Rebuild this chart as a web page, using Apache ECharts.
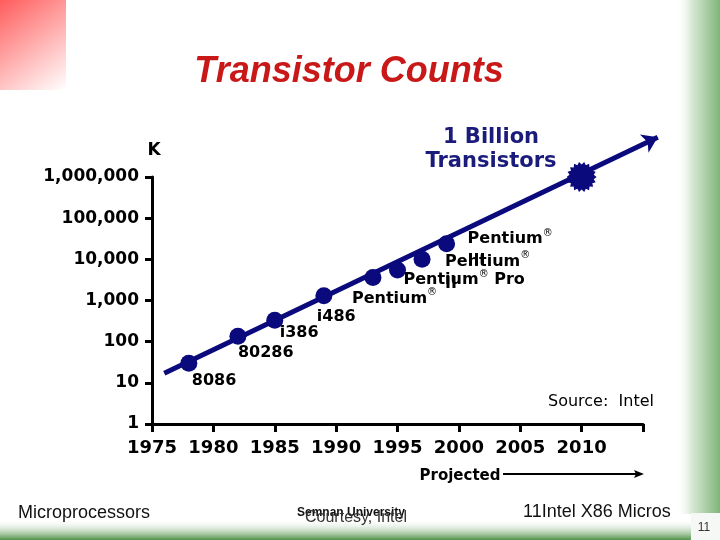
<!DOCTYPE html>
<html>
<head>
<meta charset="utf-8">
<script src="https://cdn.jsdelivr.net/npm/echarts@6/dist/echarts.min.js"></script>
<style>html,body{margin:0;padding:0;background:#fff}#c{width:720px;height:540px}</style>
</head>
<body>
<div id="c"></div>
<script>
// ---- data ----
const chipNames = ['8086', '80286', 'i386', 'i486', 'Pentium®', 'Pentium® Pro', 'Pentium® II', 'Pentium® III'];
const chipYears = [1978, 1982, 1985, 1989, 1993, 1995, 1997, 1999];
const chipTransistorsK = [30, 135, 330, 1300, 3600, 5500, 10000, 24000];
const milestoneYears = [2010];
const milestoneTransistorsK = [1000000];
const trendYears = [1976, 2016.2];
const trendTransistorsK = [17, 9300000];
const yTickValues = [1, 10, 100, 1000, 10000, 100000, 1000000];
const xTickYears = [1975, 1980, 1985, 1990, 1995, 2000, 2005, 2010];

// ---- styles ----
const NAVY = '#0a0a7c';
const labelOffsets = [[3, 18], [0, 16.5], [5, 13], [-7, 21], [-21, 21], [6, 10], [23, 2.5], [21, -4.5]];

function richName(n) {
  const parts = n.split('®');
  if (parts.length === 1) return '{t|' + n + '}';
  const suffix = parts[1];
  if (suffix === ' II' || suffix === ' III') {
    return '{t|' + parts[0] + '}{r|®}\n{t|' + suffix.trim() + '}';
  }
  return '{t|' + parts[0] + '}{r|®}' + (suffix ? '{t|' + suffix + '}' : '');
}

// starburst symbol shape
function starPath(spikes) {
  let d = '';
  for (let i = 0; i < spikes * 2; i++) {
    const r = i % 2 === 0 ? 50 : 41;
    const a = Math.PI * i / spikes;
    d += (i === 0 ? 'M' : 'L') + (50 + r * Math.cos(a)).toFixed(2) + ' ' + (50 + r * Math.sin(a)).toFixed(2) + ' ';
  }
  return 'path://' + d + 'Z';
}

const chart = echarts.init(document.getElementById('c'), null, {renderer: 'canvas', width: 720, height: 540});

const chipData = chipNames.map((n, i) => ({
  value: [chipYears[i], chipTransistorsK[i]],
  name: n,
  label: {
    show: true,
    position: 'inside',
    align: 'left',
    verticalAlign: 'top',
    offset: [labelOffsets[i][0], labelOffsets[i][1] - 11],
    formatter: richName(n),
    rich: {
      t: {fontFamily: 'DejaVu Sans', fontWeight: 'bold', fontSize: 16, color: '#000', lineHeight: 22},
      r: {fontFamily: 'DejaVu Sans', fontSize: 10, color: '#000', verticalAlign: 'top', lineHeight: 12}
    }
  }
}));

const option = {
  animation: false,
  backgroundColor: '#ffffff',
  grid: {left: 152, right: 77, top: 177, bottom: 116, containLabel: false},
  xAxis: {
    type: 'value', min: 1975, max: 2015, interval: 5,
    axisLine: {show: true, onZero: false, lineStyle: {color: '#000', width: 3}},
    axisTick: {show: true, length: 8, lineStyle: {color: '#000', width: 3}},
    splitLine: {show: false},
    axisLabel: {
      margin: 15, color: '#000', fontFamily: 'DejaVu Sans', fontWeight: 'bold', fontSize: 18,
      formatter: v => (xTickYears.indexOf(v) >= 0 ? String(v) : '')
    }
  },
  yAxis: {
    type: 'log', logBase: 10, min: yTickValues[0], max: yTickValues[yTickValues.length - 1],
    axisLine: {show: true, lineStyle: {color: '#000', width: 3}},
    axisTick: {show: true, length: 7, lineStyle: {color: '#000', width: 3}},
    splitLine: {show: false},
    axisLabel: {
      margin: 13, color: '#000', fontFamily: 'DejaVu Sans', fontWeight: 'bold', fontSize: 17,
      formatter: v => Math.round(v).toLocaleString('en-US')
    }
  },
  series: [
    {
      type: 'lines', coordinateSystem: 'cartesian2d', clip: false, z: 2,
      symbol: ['none', 'arrow'], symbolSize: 15,
      lineStyle: {color: NAVY, width: 5, opacity: 1},
      data: [{coords: trendYears.map((y, i) => [y, trendTransistorsK[i]])}]
    },
    {
      type: 'scatter', clip: false, z: 3,
      symbol: 'circle', symbolSize: 17,
      itemStyle: {color: NAVY, opacity: 1},
      data: chipData
    },
    {
      type: 'scatter', clip: false, z: 3,
      symbol: starPath(18), symbolSize: 30,
      itemStyle: {color: NAVY, opacity: 1},
      data: milestoneYears.map((y, i) => [y, milestoneTransistorsK[i]])
    }
  ],
  graphic: [
    {type: 'rect', z: -10, shape: {x: 0, y: 0, width: 66, height: 90},
      style: {fill: new echarts.graphic.LinearGradient(0, 0, 1, 1, [{offset: 0, color: '#ff5c5c'}, {offset: 1, color: '#ffffff'}])}},
    {type: 'rect', z: -10, shape: {x: 676, y: 0, width: 44, height: 514},
      style: {fill: new echarts.graphic.LinearGradient(0, 0, 1, 0, [{offset: 0, color: 'rgba(255,255,255,0)'}, {offset: 0.35, color: '#d9e9d6'}, {offset: 1, color: '#7fb579'}])}},
    {type: 'rect', z: -10, shape: {x: 0, y: 519, width: 720, height: 21},
      style: {fill: new echarts.graphic.LinearGradient(0, 0, 0, 1, [{offset: 0, color: 'rgba(255,255,255,0)'}, {offset: 1, color: '#4f9146'}])}},
    {type: 'rect', z: -9, shape: {x: 691, y: 513, width: 29, height: 27},
      style: {fill: '#f6f8f5'}},
    {type: 'text', x: 349, y: 72, z: 5,
      style: {text: 'Transistor Counts', font: 'italic bold 36px "Liberation Sans", Arial, sans-serif', fill: '#c81818',
        align: 'center', verticalAlign: 'middle', shadowColor: 'rgba(0,0,0,0.35)', shadowBlur: 2, shadowOffsetX: 1, shadowOffsetY: 1}},
    {type: 'text', x: 491, y: 150, z: 5,
      style: {text: '1 Billion\nTransistors', font: 'bold 21px "DejaVu Sans", sans-serif', fill: '#1b1b7c',
        align: 'center', verticalAlign: 'middle', lineHeight: 24}},
    {type: 'text', x: 154, y: 151, z: 5,
      style: {text: 'K', font: 'bold 17px "DejaVu Sans", sans-serif', fill: '#000', align: 'center', verticalAlign: 'middle'}},
    {type: 'text', x: 548, y: 402, z: 5,
      style: {text: 'Source:  Intel', font: '16px "DejaVu Sans", sans-serif', fill: '#000', align: 'left', verticalAlign: 'middle'}},
    {type: 'text', x: 460, y: 476, z: 5,
      style: {text: 'Projected', font: 'bold 15px "DejaVu Sans", sans-serif', fill: '#000', align: 'center', verticalAlign: 'middle'}},
    {type: 'line', z: 5, shape: {x1: 503, y1: 474, x2: 636, y2: 474}, style: {stroke: '#000', lineWidth: 2}},
    {type: 'polygon', z: 5, shape: {points: [[644, 474], [634, 470], [636, 474], [634, 478]]}, style: {fill: '#000'}},
    {type: 'text', x: 18, y: 513, z: 5,
      style: {text: 'Microprocessors', font: '18px "Liberation Sans", Arial, sans-serif', fill: '#111', align: 'left', verticalAlign: 'middle'}},
    {type: 'text', x: 297, y: 513, z: 5,
      style: {text: 'Semnan University', font: 'bold 12px "Liberation Sans", Arial, sans-serif', fill: '#111', align: 'left', verticalAlign: 'middle'}},
    {type: 'text', x: 305, y: 518, z: 5,
      style: {text: 'Courtesy, Intel', font: '16px "Liberation Sans", Arial, sans-serif', fill: '#333', align: 'left', verticalAlign: 'middle'}},
    {type: 'text', x: 523, y: 512, z: 5,
      style: {text: '11Intel X86 Micros', font: '18px "Liberation Sans", Arial, sans-serif', fill: '#111', align: 'left', verticalAlign: 'middle'}},
    {type: 'text', x: 704, y: 528, z: 5,
      style: {text: '11', font: '12px "Liberation Sans", Arial, sans-serif', fill: '#333', align: 'center', verticalAlign: 'middle'}}
  ]
};
chart.setOption(option);
</script>
</body>
</html>
